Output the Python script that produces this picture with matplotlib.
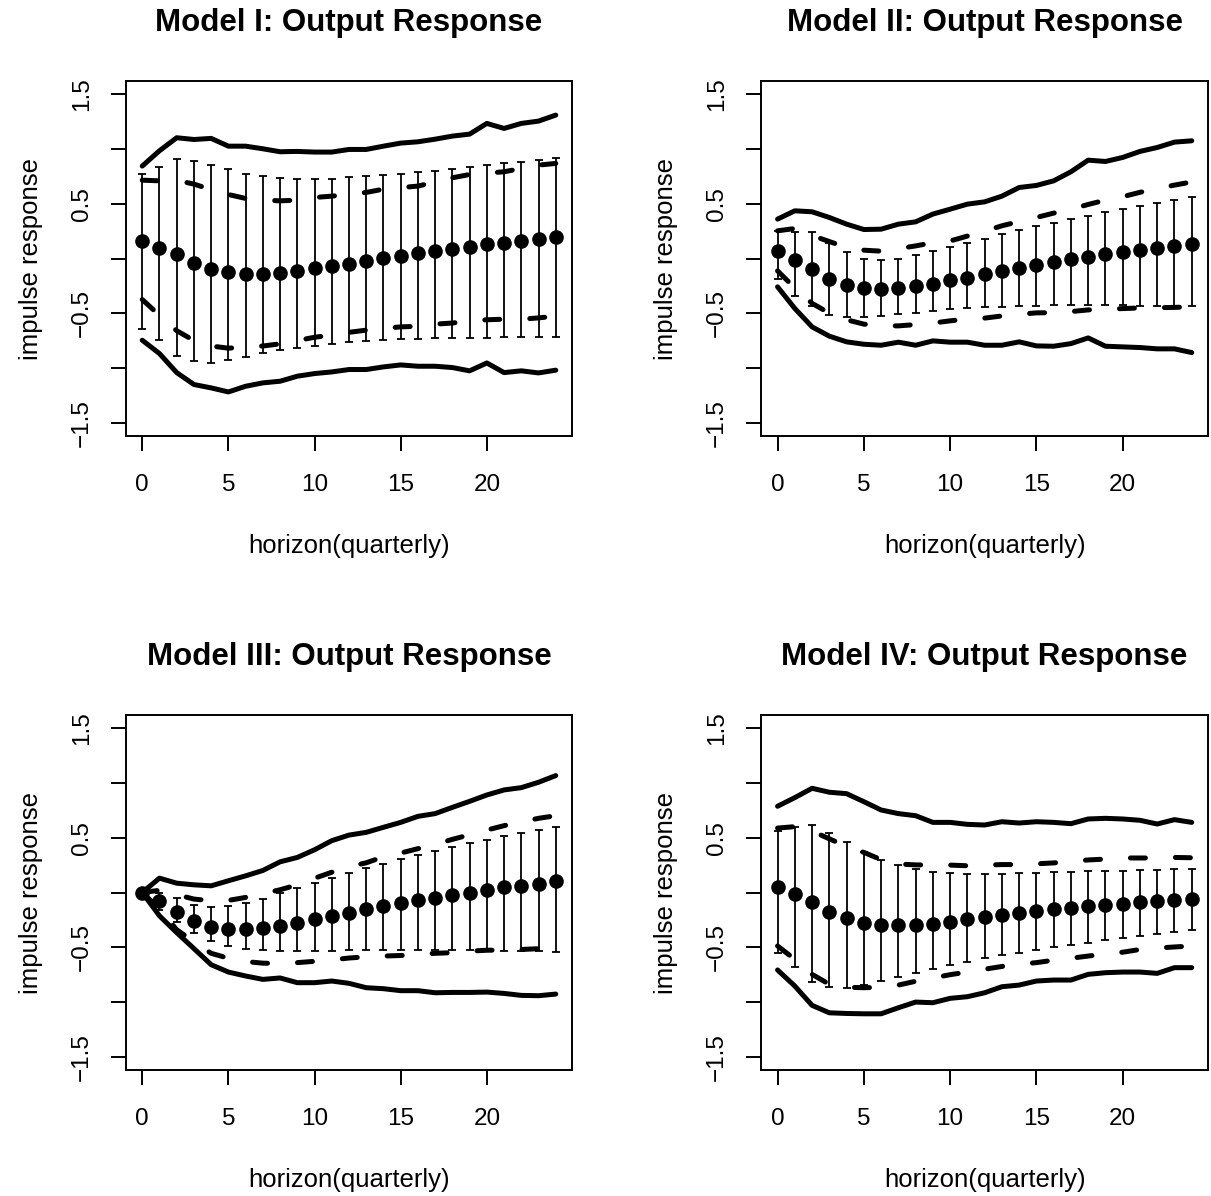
import matplotlib
matplotlib.use("Agg")
import matplotlib.pyplot as plt
import numpy as np

plt.rcParams['font.family'] = ['Liberation Sans', 'DejaVu Sans']

horizon = list(range(25))

titles = ["Model I: Output Response", "Model II: Output Response",
          "Model III: Output Response", "Model IV: Output Response"]

# ---- Model I ----
m1_mean = [0.159, 0.098, 0.037, -0.043, -0.094, -0.125, -0.140, -0.140, -0.128, -0.110, -0.091, -0.070, -0.046,
           -0.024, 0.003, 0.021, 0.046, 0.067, 0.088, 0.107, 0.128, 0.143, 0.162, 0.177, 0.192]
m1_err_hi = [0.774, 0.835, 0.912, 0.887, 0.857, 0.820, 0.777, 0.753, 0.735, 0.729, 0.723, 0.729, 0.741,
             0.753, 0.765, 0.777, 0.790, 0.802, 0.817, 0.832, 0.851, 0.869, 0.884, 0.899, 0.915]
m1_err_lo = [-0.643, -0.747, -0.887, -0.939, -0.951, -0.927, -0.896, -0.866, -0.838, -0.814, -0.796, -0.780, -0.765,
             -0.756, -0.747, -0.738, -0.732, -0.726, -0.726, -0.723, -0.723, -0.720, -0.720, -0.720, -0.720]
m1_dash_hi = [0.716, 0.710, 0.715, 0.68, 0.63, 0.585, 0.549, 0.535, 0.527, 0.534, 0.558, 0.570, 0.587,
              0.604, 0.634, 0.648, 0.662, 0.70, 0.738, 0.768, 0.78, 0.793, 0.823, 0.854, 0.869]
m1_dash_lo = [-0.375, -0.52, -0.66, -0.75, -0.80, -0.82, -0.81, -0.80, -0.78, -0.75, -0.72, -0.70, -0.675,
              -0.655, -0.64, -0.625, -0.62, -0.60, -0.59, -0.57, -0.56, -0.555, -0.555, -0.543, -0.527]
m1_solid_hi = [0.845, 0.985, 1.104, 1.088, 1.098, 1.027, 1.027, 1.003, 0.976, 0.979, 0.973, 0.973, 0.997,
               0.997, 1.027, 1.055, 1.067, 1.091, 1.119, 1.137, 1.235, 1.189, 1.235, 1.256, 1.311]
m1_solid_lo = [-0.747, -0.869, -1.043, -1.152, -1.183, -1.220, -1.168, -1.137, -1.122, -1.076, -1.052, -1.037, -1.015,
               -1.015, -0.991, -0.973, -0.985, -0.985, -0.997, -1.027, -0.955, -1.043, -1.027, -1.046, -1.021]

# ---- Model II ----
m2_mean = [0.073, -0.012, -0.095, -0.183, -0.238, -0.268, -0.277, -0.271, -0.253, -0.229, -0.201, -0.174, -0.143,
           -0.116, -0.085, -0.061, -0.034, -0.009, 0.012, 0.037, 0.058, 0.079, 0.098, 0.116, 0.137]
m2_err_hi = [0.253, 0.244, 0.238, 0.146, 0.055, -0.003, -0.015, 0.000, 0.034, 0.067, 0.107, 0.143, 0.180,
             0.223, 0.256, 0.296, 0.326, 0.360, 0.390, 0.421, 0.451, 0.482, 0.506, 0.534, 0.561]
m2_err_lo = [-0.186, -0.345, -0.436, -0.515, -0.537, -0.537, -0.527, -0.509, -0.494, -0.479, -0.466, -0.454, -0.445,
             -0.439, -0.433, -0.430, -0.427, -0.424, -0.424, -0.424, -0.427, -0.430, -0.430, -0.436, -0.436]
m2_dash_hi = [0.253, 0.274, 0.21, 0.155, 0.10, 0.076, 0.067, 0.09, 0.115, 0.145, 0.16, 0.205, 0.25,
              0.299, 0.338, 0.375, 0.415, 0.45, 0.494, 0.534, 0.565, 0.605, 0.64, 0.671, 0.70]
m2_dash_lo = [-0.113, -0.27, -0.41, -0.50, -0.56, -0.60, -0.615, -0.616, -0.604, -0.59, -0.57, -0.553, -0.545,
              -0.525, -0.51, -0.497, -0.495, -0.485, -0.47, -0.463, -0.458, -0.452, -0.45, -0.447, -0.442]
m2_solid_hi = [0.360, 0.436, 0.427, 0.375, 0.314, 0.265, 0.268, 0.314, 0.335, 0.406, 0.451, 0.497, 0.518,
               0.570, 0.649, 0.668, 0.710, 0.793, 0.899, 0.887, 0.924, 0.979, 1.015, 1.064, 1.076]
m2_solid_lo = [-0.259, -0.457, -0.625, -0.710, -0.762, -0.784, -0.793, -0.765, -0.793, -0.753, -0.765, -0.765, -0.793,
               -0.793, -0.762, -0.799, -0.802, -0.778, -0.726, -0.802, -0.808, -0.814, -0.826, -0.826, -0.860]

# ---- Model III ----
m3_mean = [0.000, -0.082, -0.174, -0.259, -0.314, -0.335, -0.335, -0.326, -0.305, -0.277, -0.244, -0.216, -0.186,
           -0.155, -0.125, -0.098, -0.070, -0.049, -0.021, 0.000, 0.021, 0.046, 0.061, 0.082, 0.101]
m3_err_hi = [0.000, 0.000, -0.052, -0.113, -0.134, -0.125, -0.098, -0.061, -0.009, 0.037, 0.085, 0.128, 0.177,
             0.220, 0.262, 0.302, 0.345, 0.378, 0.415, 0.448, 0.479, 0.512, 0.543, 0.573, 0.601]
m3_err_lo = [0.000, -0.159, -0.268, -0.372, -0.439, -0.488, -0.512, -0.524, -0.530, -0.530, -0.530, -0.530, -0.527,
             -0.527, -0.524, -0.524, -0.524, -0.524, -0.527, -0.527, -0.530, -0.533, -0.533, -0.533, -0.540]
m3_dash_hi = [0.0, 0.02, -0.02, -0.06, -0.075, -0.072, -0.045, -0.01, 0.025, 0.07, 0.13, 0.185, 0.235,
              0.271, 0.326, 0.36, 0.40, 0.44, 0.485, 0.527, 0.57, 0.61, 0.645, 0.677, 0.701]
m3_dash_lo = [0.0, -0.15, -0.34, -0.45, -0.555, -0.60, -0.63, -0.645, -0.648, -0.64, -0.628, -0.615, -0.598,
              -0.587, -0.58, -0.575, -0.565, -0.555, -0.549, -0.535, -0.527, -0.525, -0.52, -0.513, -0.51]
m3_solid_hi = [0.000, 0.131, 0.085, 0.070, 0.061, 0.107, 0.152, 0.201, 0.280, 0.320, 0.390, 0.473, 0.524,
               0.549, 0.595, 0.640, 0.695, 0.720, 0.777, 0.832, 0.890, 0.936, 0.957, 1.006, 1.067]
m3_solid_lo = [0.000, -0.213, -0.366, -0.512, -0.659, -0.726, -0.762, -0.793, -0.780, -0.823, -0.823, -0.808, -0.829,
               -0.869, -0.878, -0.896, -0.896, -0.915, -0.912, -0.912, -0.909, -0.921, -0.939, -0.942, -0.927]

# ---- Model IV ----
m4_mean = [0.046, -0.015, -0.091, -0.177, -0.235, -0.274, -0.296, -0.299, -0.296, -0.284, -0.265, -0.244, -0.226,
           -0.207, -0.189, -0.171, -0.155, -0.140, -0.125, -0.113, -0.101, -0.088, -0.079, -0.070, -0.061]
m4_err_hi = [0.564, 0.595, 0.619, 0.543, 0.457, 0.366, 0.299, 0.247, 0.210, 0.186, 0.174, 0.168, 0.168,
             0.171, 0.174, 0.177, 0.183, 0.186, 0.192, 0.195, 0.198, 0.204, 0.207, 0.210, 0.213]
m4_err_lo = [-0.555, -0.677, -0.817, -0.860, -0.869, -0.848, -0.811, -0.771, -0.732, -0.695, -0.662, -0.631, -0.601,
             -0.573, -0.549, -0.521, -0.500, -0.479, -0.457, -0.436, -0.415, -0.399, -0.381, -0.360, -0.341]
m4_dash_hi = [0.588, 0.601, 0.56, 0.49, 0.42, 0.366, 0.30, 0.26, 0.252, 0.25, 0.25, 0.244, 0.25,
              0.255, 0.255, 0.262, 0.27, 0.285, 0.297, 0.305, 0.315, 0.315, 0.315, 0.32, 0.317]
m4_dash_lo = [-0.488, -0.61, -0.747, -0.838, -0.865, -0.869, -0.865, -0.845, -0.81, -0.78, -0.75, -0.726, -0.70,
              -0.675, -0.655, -0.64, -0.618, -0.60, -0.58, -0.56, -0.545, -0.52, -0.507, -0.497, -0.488]
m4_solid_hi = [0.787, 0.866, 0.951, 0.915, 0.902, 0.829, 0.753, 0.720, 0.701, 0.640, 0.640, 0.622, 0.616,
               0.646, 0.634, 0.646, 0.640, 0.628, 0.671, 0.677, 0.671, 0.659, 0.625, 0.665, 0.640]
m4_solid_lo = [-0.707, -0.854, -1.030, -1.098, -1.104, -1.107, -1.107, -1.052, -1.000, -1.006, -0.966, -0.951, -0.915,
               -0.860, -0.845, -0.808, -0.799, -0.799, -0.747, -0.732, -0.726, -0.726, -0.738, -0.686, -0.686]

models = [
    (m1_mean, m1_err_lo, m1_err_hi, m1_dash_lo, m1_dash_hi, m1_solid_lo, m1_solid_hi),
    (m2_mean, m2_err_lo, m2_err_hi, m2_dash_lo, m2_dash_hi, m2_solid_lo, m2_solid_hi),
    (m3_mean, m3_err_lo, m3_err_hi, m3_dash_lo, m3_dash_hi, m3_solid_lo, m3_solid_hi),
    (m4_mean, m4_err_lo, m4_err_hi, m4_dash_lo, m4_dash_hi, m4_solid_lo, m4_solid_hi),
]

W, H = 1211, 1196
fig = plt.figure(figsize=(W / 100, H / 100), dpi=100)

# axes boxes in pixels: left, top, right, bottom
boxes = [(125.7, 81.3, 572.3, 435.7), (761, 81.3, 1208.3, 435.7),
         (125.7, 715, 572.3, 1070), (761, 715, 1208.3, 1070)]

x = np.array(horizon)
for box, title, data in zip(boxes, titles, models):
    l, t, r, b = box
    ax = fig.add_axes([l / W, 1 - b / H, (r - l) / W, (b - t) / H])
    mean, elo, ehi, dlo, dhi, slo, shi = [np.array(d) for d in data]

    # outer bands (solid), inner bands (dashed), then the error bars and dots
    for s in (shi, slo):
        ax.plot(x, s, color='k', lw=3.6, solid_joinstyle='round', solid_capstyle='round')
    for d in (dhi, dlo):
        ax.plot(x, d, color='k', lw=3.6, dashes=(3, 6), dash_capstyle='round', dash_joinstyle='round')
    ax.errorbar(x, mean, yerr=[mean - elo, ehi - mean], fmt='none', ecolor='k',
                elinewidth=1.3, capsize=3, capthick=1.3)
    ax.plot(x, mean, 'o', color='k', ms=9.5)

    # R style axes: 4% padding, rotated y labels, some labels dropped
    ax.set_xlim(-0.96, 24.96)
    ax.set_ylim(-1.62, 1.62)
    ax.set_xticks([0, 5, 10, 15, 20])
    ax.set_yticks([-1.5, -1.0, -0.5, 0.0, 0.5, 1.0, 1.5])
    ax.set_yticklabels(['\u22121.5', '', '\u22120.5', '', '0.5', '', '1.5'])
    for lab in ax.get_yticklabels():
        lab.set_rotation(90)
        lab.set_va('center')
    ax.tick_params(direction='out', length=10.8, width=1.4, labelsize=17.5)
    ax.tick_params(axis='x', pad=16.5)
    ax.tick_params(axis='y', pad=13)
    for sp in ax.spines.values():
        sp.set_linewidth(1.4)

    ah = b - t
    aw = r - l
    ax.text(0.5, 1 + 50 / ah, title, transform=ax.transAxes, ha='center', va='baseline',
            fontsize=22.5, fontweight='bold')
    ax.text(0.5, -117 / ah, 'horizon(quarterly)', transform=ax.transAxes, ha='center', va='baseline',
            fontsize=18.5)
    ax.text(-95 / aw, 0.5, 'impulse response', transform=ax.transAxes,
            ha='center', va='center', rotation=90, fontsize=18.5)

fig.savefig('out.png', dpi=100)
